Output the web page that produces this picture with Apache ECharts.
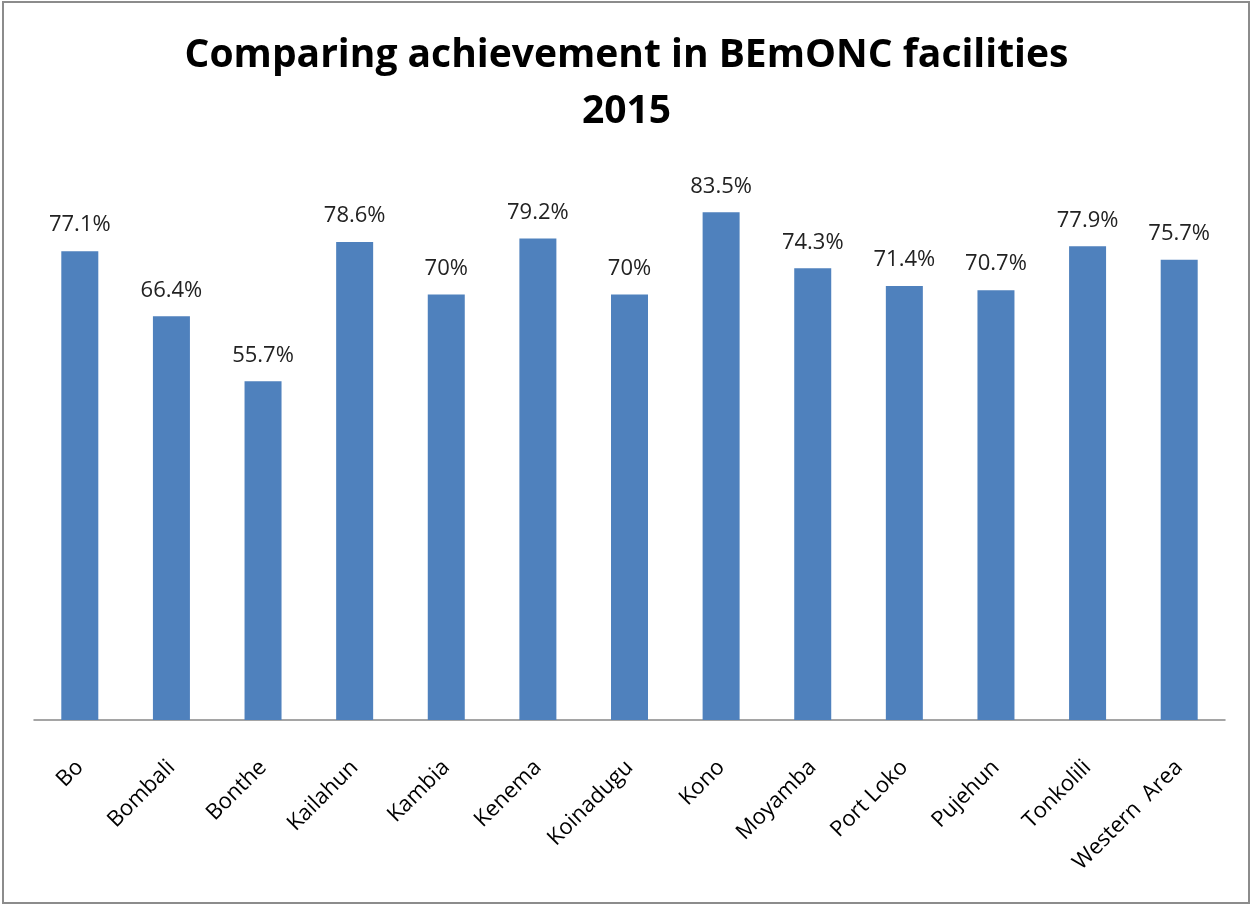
<!DOCTYPE html>
<html>
<head>
<meta charset="utf-8">
<script src="https://cdn.jsdelivr.net/npm/echarts@6/dist/echarts.min.js"></script>
<style>
    html, body { margin: 0; padding: 0; background: #fff; }
    #frame {
        position: absolute; left: 2px; top: 1px; width: 1248px; height: 903px;
        border: 2px solid #8c8c8c; box-sizing: border-box;
    }
    #chart { position: absolute; left: 0; top: 0; width: 1253px; height: 907px; }
</style>
</head>
<body>
<div id="frame"></div>
<div id="chart"></div>
<script>
const districts = ['Bo', 'Bombali', 'Bonthe', 'Kailahun', 'Kambia', 'Kenema', 'Koinadugu',
    'Kono', 'Moyamba', 'Port Loko', 'Pujehun', 'Tonkolili', 'Western  Area']
const achievement = [77.1, 66.4, 55.7, 78.6, 70, 79.2, 70, 83.5, 74.3, 71.4, 70.7, 77.9, 75.7]

const chart = echarts.init(document.getElementById('chart'))

chart.setOption({
    animation: false,
    title: {
        text: 'Comparing achievement in BEmONC facilities\n2015',
        left: 'center',
        top: 23,
        textStyle: {
            fontFamily: 'Open Sans',
            fontWeight: 'bold',
            fontSize: 39,
            lineHeight: 56,
            color: '#000'
        }
    },
    grid: {
        left: 34,
        right: 28,
        top: 112,
        bottom: 187
    },
    xAxis: {
        type: 'category',
        data: districts,
        axisLine: {
            lineStyle: { color: '#888', width: 1.5 }
        },
        axisTick: { show: false },
        axisLabel: {
            rotate: 45,
            interval: 0,
            margin: 44,
            fontFamily: 'Open Sans',
            fontSize: 22,
            color: '#000'
        }
    },
    yAxis: {
        type: 'value',
        min: 0,
        max: 100,
        show: false
    },
    series: [{
        type: 'bar',
        data: achievement,
        barWidth: 37,
        itemStyle: {
            color: '#4f81bd'
        },
        label: {
            show: true,
            position: 'top',
            distance: 15,
            formatter: p => p.value + '%',
            fontFamily: 'Open Sans',
            fontSize: 22,
            color: '#222'
        }
    }]
})
</script>
</body>
</html>
